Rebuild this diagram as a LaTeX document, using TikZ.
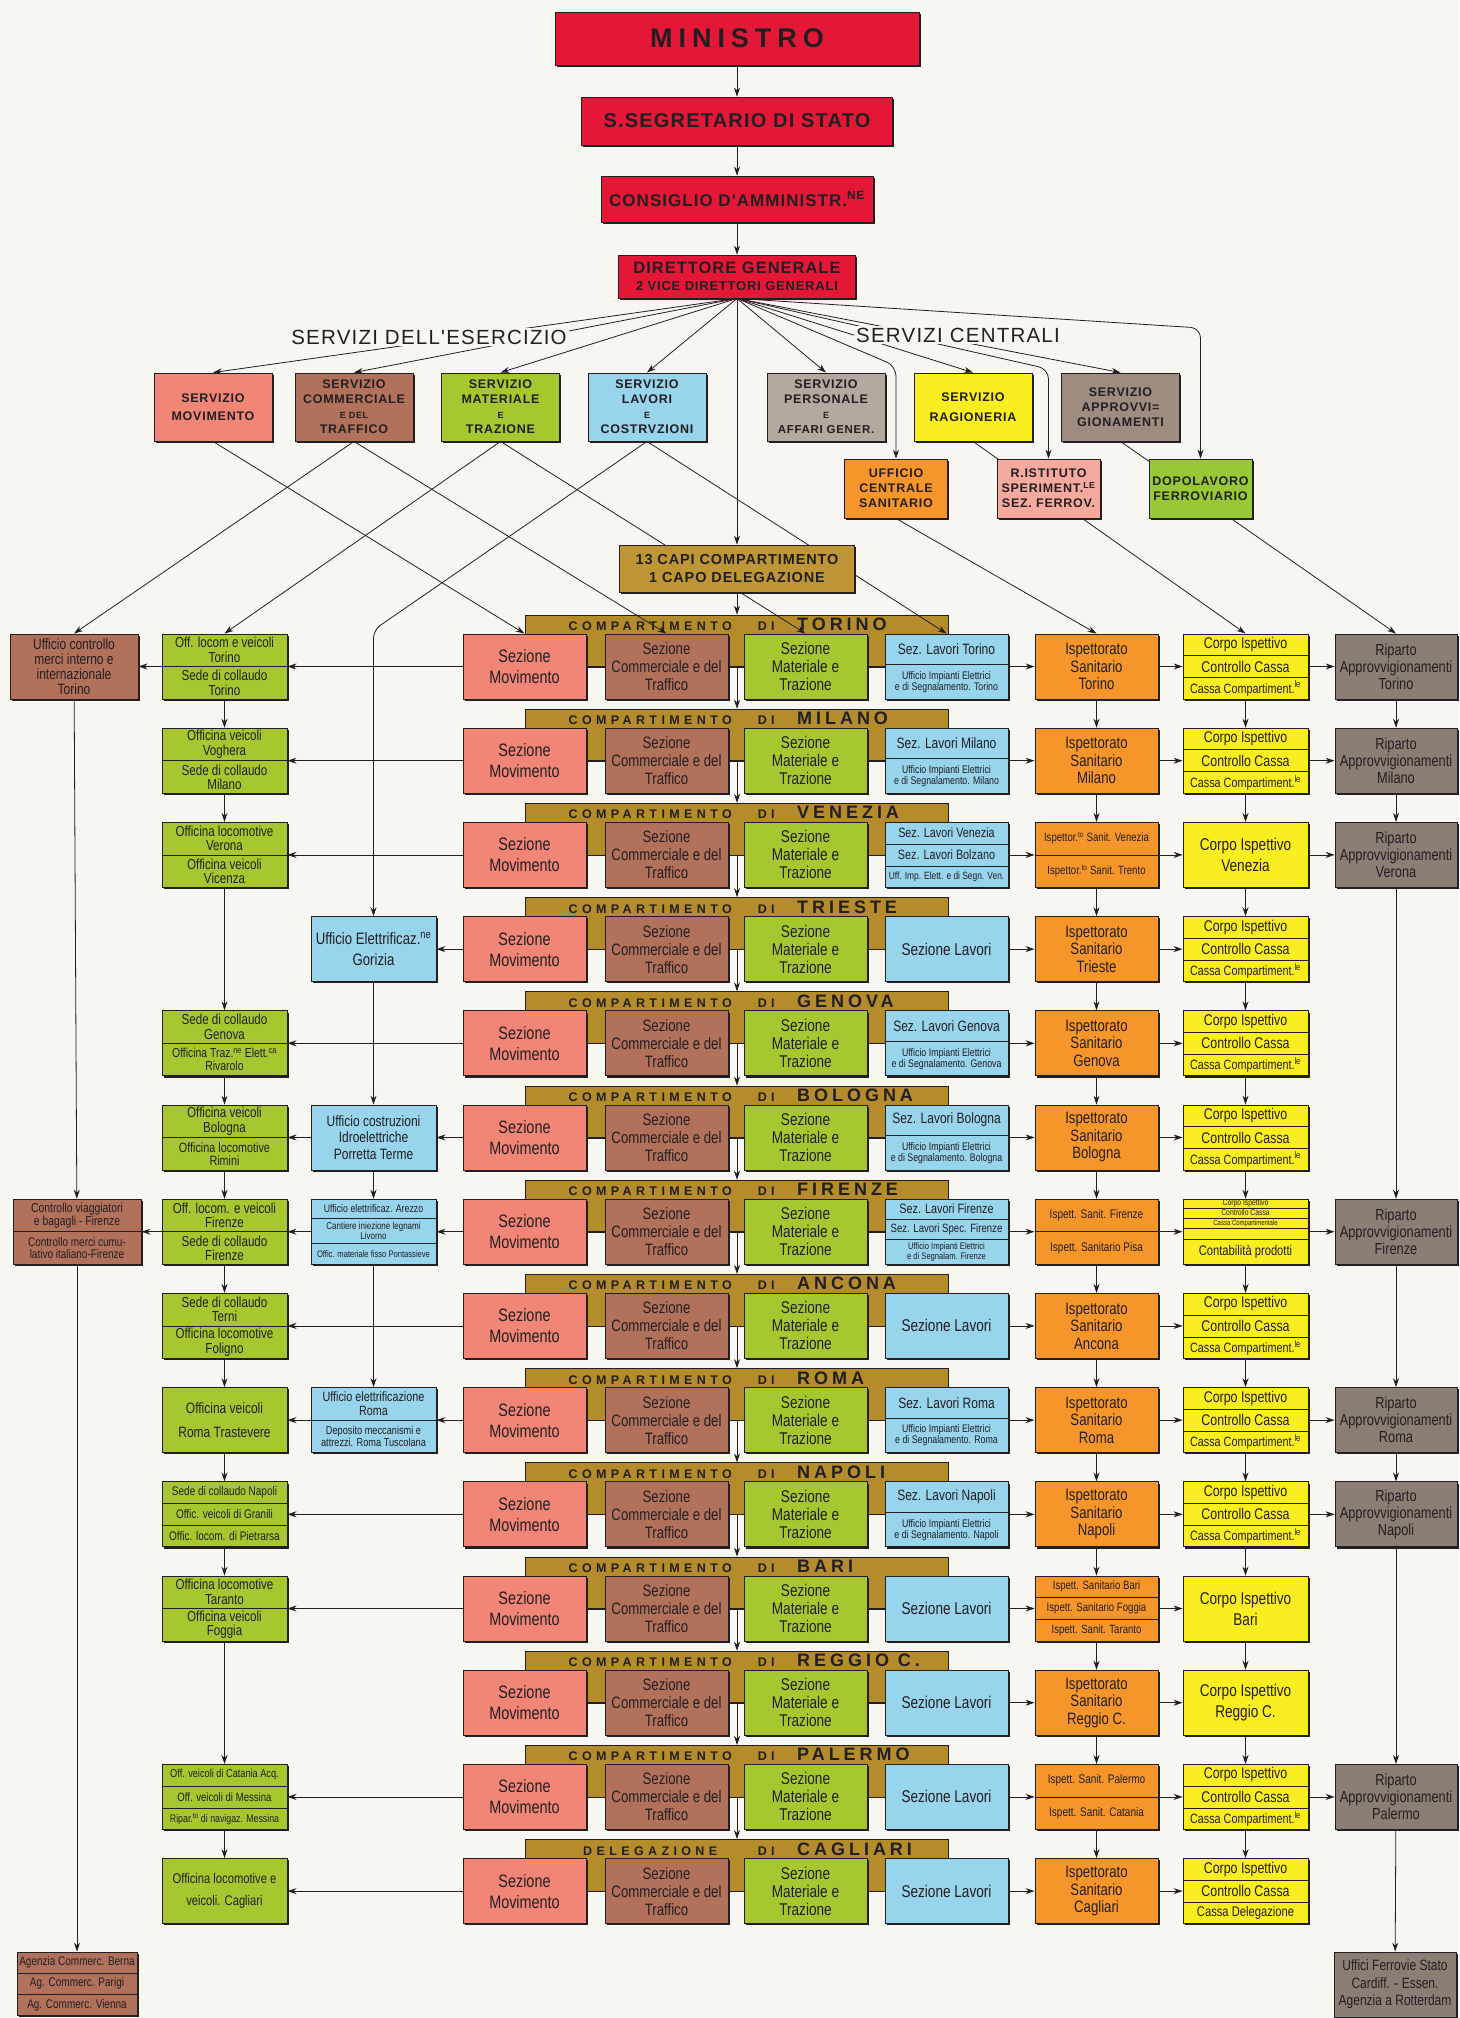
\documentclass[tikz,border=0pt]{standalone}
\usepackage{fontspec}
\setmainfont{Liberation Sans}[FakeStretch=0.8]
\newfontfamily\capsfont{Liberation Sans}[LetterSpace=6]
\newfontfamily\cityfont{Liberation Sans}[LetterSpace=22]
\newfontfamily\hdrfont{Liberation Sans}[LetterSpace=35]
\usetikzlibrary{calc,positioning,shadows,arrows.meta}

\definecolor{paper}{RGB}{248,246,241}
\definecolor{inkc}{RGB}{34,30,34}
\definecolor{redc}{RGB}{228,24,54}
\definecolor{movc}{RGB}{241,134,118}
\definecolor{comc}{RGB}{178,113,90}
\definecolor{matc}{RGB}{166,199,48}
\definecolor{lavc}{RGB}{152,212,236}
\definecolor{perc}{RGB}{178,170,158}
\definecolor{ragc}{RGB}{251,238,32}
\definecolor{appc}{RGB}{158,140,128}
\definecolor{sanc}{RGB}{246,150,42}
\definecolor{istc}{RGB}{246,170,158}
\definecolor{dopc}{RGB}{152,200,54}
\definecolor{goldc}{RGB}{190,150,54}
\definecolor{bandc}{RGB}{180,140,44}
\definecolor{ripc}{RGB}{140,126,116}

\pgfdeclarelayer{bands}
\pgfdeclarelayer{links}
\pgfsetlayers{bands,links,main}

\tikzset{
    >={Stealth[length=9pt,width=6pt]},
    box/.style={draw=inkc, line width=0.9pt, align=center, inner sep=1pt, text=inkc,
        general shadow={shadow xshift=1.8pt, shadow yshift=-1.8pt, fill=inkc}},
    topbox/.style={box, fill=redc},
    srvbox/.style={box, minimum width=118pt, minimum height=68pt,
        font=\capsfont\bfseries\fontsize{12.5}{15}\selectfont},
    subbox/.style={srvbox, minimum width=103pt, minimum height=59pt},
    capbox/.style={box, fill=goldc, minimum width=235pt, minimum height=47pt,
        font=\capsfont\bfseries\fontsize{14.5}{18}\selectfont},
    title/.style={fill=paper, inner sep=2pt, text=inkc, font=\capsfont\fontsize{20.5}{22}\selectfont},
    cell/.style={box, minimum width=123pt, minimum height=65pt, font=\fontsize{17}{18}\selectfont},
    movbox/.style={cell, fill=movc, font=\fontsize{18}{21}\selectfont},
    combox/.style={cell, fill=comc, font=\fontsize{16.5}{18}\selectfont},
    matbox/.style={cell, fill=matc},
    lavbox/.style={cell, fill=lavc},
    ispbox/.style={cell, fill=sanc, font=\fontsize{16.5}{17.5}\selectfont},
    corbox/.style={cell, fill=ragc, minimum width=125pt, font=\fontsize{17}{21}\selectfont},
    ripbox/.style={cell, fill=ripc, minimum width=122pt, font=\fontsize{16}{17}\selectfont},
    grnbox/.style={cell, fill=matc, minimum width=125pt},
    blubox/.style={cell, fill=lavc, minimum width=125pt},
    brnbox/.style={cell, fill=comc, minimum width=128pt},
    part/.style={inner sep=0pt, align=center, text=inkc},
    band/.style={draw=inkc, line width=0.9pt, fill=bandc, minimum width=423pt,
        minimum height=52pt, inner sep=0pt},
    hdr/.style={inner sep=0pt, text=inkc, font=\hdrfont\bfseries\fontsize{12.5}{14}\selectfont},
    link/.style={draw=inkc, line width=0.8pt}
}

% centre line of compartment row #1
\newcommand{\ry}[1]{666.5+94.2*#1}
% box cut in parts: name, style, centre, dividers, centre/size/text
\newcommand{\splitbox}[5]{%
  \node[#2] (#1) at (#3) {};
  \foreach \fr in {#4}{\draw[line width=0.6pt, draw=inkc]
      ($(#1.north west)!\fr!(#1.south west)$) -- ($(#1.north east)!\fr!(#1.south east)$);}
  \foreach \cy/\fs/\tx [count=\n] in {#5}{\node[part, font=\fontsize{\fs}{\fs}\selectfont]
      (#1p\n) at ($(#1.north)!\cy!(#1.south)$) {\tx};}
}

\begin{document}
\begin{tikzpicture}[x=1pt,y=-1pt]
\useasboundingbox (0,0) rectangle (1459,2018);
\begin{pgfonlayer}{bands}
  \fill[paper] (0,0) rectangle (1459,2018);
\end{pgfonlayer}

% Top of the chart
\node[topbox, minimum width=364pt, minimum height=53pt,
  font=\cityfont\bfseries\fontsize{27}{30}\selectfont] (min) at (737,38.5) {MINISTRO};
\node[topbox, minimum width=311pt, minimum height=48pt,
  font=\capsfont\bfseries\fontsize{20}{22}\selectfont] (seg) at (737,121) {S.SEGRETARIO DI STATO};
\node[topbox, minimum width=272pt, minimum height=46pt,
  font=\capsfont\bfseries\fontsize{17}{20}\selectfont] (cons) at (737,199)
  {CONSIGLIO D'AMMINISTR.\textsuperscript{NE}};
\node[topbox, minimum width=237pt, minimum height=43pt,
  font=\capsfont\bfseries\fontsize{16.5}{17}\selectfont] (dir) at (737,276.5)
  {DIRETTORE GENERALE\\{\fontsize{13}{14}\selectfont 2 VICE DIRETTORI GENERALI}};

\node[title] (eserc) at (429,337) {SERVIZI DELL'ESERCIZIO};
\node[title] (centr) at (958,335) {SERVIZI CENTRALI};

% Services
\node[srvbox, fill=movc] (smov) at (213,407) {SERVIZIO\\[3pt]MOVIMENTO};
\node[srvbox, fill=comc] (scomm) at (354,407)
  {SERVIZIO\\COMMERCIALE\\{\fontsize{9}{9}\selectfont E DEL}\\TRAFFICO};
\node[srvbox, fill=matc] (smat) at (500.5,407)
  {SERVIZIO\\MATERIALE\\{\fontsize{9}{9}\selectfont E}\\TRAZIONE};
\node[srvbox, fill=lavc] (slav) at (647,407)
  {SERVIZIO\\LAVORI\\{\fontsize{9}{9}\selectfont E}\\COSTRVZIONI};
\node[srvbox, fill=perc] (spers) at (826,407)
  {SERVIZIO\\PERSONALE\\{\fontsize{9}{9}\selectfont E}\\{\fontsize{11.5}{13}\selectfont AFFARI GENER.}};
\node[srvbox, fill=ragc] (srag) at (973,407) {SERVIZIO\\[5pt]RAGIONERIA};
\node[srvbox, fill=appc] (sappr) at (1120.5,407) {SERVIZIO\\APPROVVI=\\GIONAMENTI};
\node[subbox, fill=sanc] (usan) at (896,488.5) {UFFICIO\\CENTRALE\\SANITARIO};
\node[subbox, fill=istc] (rist) at (1048.5,488.5)
  {R.ISTITUTO\\SPERIMENT.\textsuperscript{LE}\\SEZ. FERROV.};
\node[subbox, fill=dopc] (dopo) at (1200.5,488.5) {DOPOLAVORO\\FERROVIARIO};
\node[capbox] (capi) at (737,568.5) {13 CAPI COMPARTIMENTO\\1 CAPO DELEGAZIONE};

% Compartment rows
\foreach \kind/\city [count=\i from 0] in {COMPARTIMENTO/TORINO, COMPARTIMENTO/MILANO,
    COMPARTIMENTO/VENEZIA, COMPARTIMENTO/TRIESTE, COMPARTIMENTO/GENOVA,
    COMPARTIMENTO/BOLOGNA, COMPARTIMENTO/FIRENZE, COMPARTIMENTO/ANCONA,
    COMPARTIMENTO/ROMA, COMPARTIMENTO/NAPOLI, COMPARTIMENTO/BARI,
    COMPARTIMENTO/REGGIO C., COMPARTIMENTO/PALERMO, DELEGAZIONE/CAGLIARI}{
  \begin{pgfonlayer}{bands}
    \node[band] (band\i) at (737,{641+94.2*\i}) {};
  \end{pgfonlayer}
  \node[hdr, anchor=base west] (head\i) at (565,{630.5+94.2*\i})
    {\makebox[170pt]{\kind}\makebox[62pt]{DI}\makebox[130pt][l]{\cityfont\fontsize{18}{18}\selectfont\city}};
  \node[movbox] (mov\i) at (524.5,\ry{\i}) {Sezione\\Movimento};
  \node[combox] (comm\i) at (666.5,\ry{\i}) {Sezione\\Commerciale e del\\Traffico};
  \node[matbox] (mat\i) at (805.5,\ry{\i}) {Sezione\\Materiale e\\Trazione};
}

% Sezione lavori
\foreach \i/\cty in {0/Torino,1/Milano,4/Genova,5/Bologna,8/Roma,9/Napoli}
  \splitbox{lav\i}{lavbox}{946.5,\ry{\i}}{0.47}{0.235/15/{Sez. Lavori \cty},
    0.735/11/{Ufficio Impianti Elettrici\\e di Segnalamento. \cty}};
\foreach \i in {3,7,10,11,12,13}
  \node[lavbox] (lav\i) at (946.5,\ry{\i}) {Sezione Lavori};
\splitbox{lav2}{lavbox}{946.5,\ry{2}}{0.333,0.667}{0.167/13.5/{Sez. Lavori Venezia},
  0.5/13.5/{Sez. Lavori Bolzano}, 0.833/10.5/{Uff. Imp. Elett. e di Segn. Ven.}}
\splitbox{lav6}{lavbox}{946.5,\ry{6}}{0.31,0.62}{0.155/13.5/{Sez. Lavori Firenze},
  0.465/12/{Sez. Lavori Spec. Firenze}, 0.81/9.5/{Ufficio Impianti Elettrici\\e di Segnalam. Firenze}}

% Ispettorati sanitari
\foreach \i/\cty in {0/Torino,1/Milano,3/Trieste,4/Genova,5/Bologna,7/Ancona,8/Roma,
    9/Napoli,11/Reggio C.,13/Cagliari}
  \node[ispbox] (isp\i) at (1096.5,\ry{\i}) {Ispettorato\\Sanitario\\\cty};
\splitbox{isp2}{ispbox}{1096.5,\ry{2}}{0.5}{0.25/12/{Ispettor.\textsuperscript{to} Sanit. Venezia},
  0.75/12/{Ispettor.\textsuperscript{to} Sanit. Trento}}
\splitbox{isp6}{ispbox}{1096.5,\ry{6}}{0.5}{0.25/12.5/{Ispett. Sanit. Firenze},
  0.75/12.5/{Ispett. Sanitario Pisa}}
\splitbox{isp10}{ispbox}{1096.5,\ry{10}}{0.333,0.667}{0.167/12/{Ispett. Sanitario Bari},
  0.5/12/{Ispett. Sanitario Foggia}, 0.833/12/{Ispett. Sanit. Taranto}}
\splitbox{isp12}{ispbox}{1096.5,\ry{12}}{0.5}{0.25/12.5/{Ispett. Sanit. Palermo},
  0.75/12.5/{Ispett. Sanit. Catania}}

% Corpo ispettivo
\foreach \i in {0,1,3,4,5,7,8,9,12}
  \splitbox{corpo\i}{corbox}{1245.5,\ry{\i}}{0.333,0.667}{0.167/15.5/{Corpo Ispettivo},
    0.5/15.5/{Controllo Cassa}, 0.833/13.5/{Cassa Compartiment.\textsuperscript{le}}};
\node[corbox] (corpo2) at (1245.5,\ry{2}) {Corpo Ispettivo\\Venezia};
\node[corbox] (corpo10) at (1245.5,\ry{10}) {Corpo Ispettivo\\Bari};
\node[corbox] (corpo11) at (1245.5,\ry{11}) {Corpo Ispettivo\\Reggio C.};
\splitbox{corpo6}{corbox}{1245.5,\ry{6}}{0.14,0.29,0.45,0.62}{0.07/8.5/{Corpo Ispettivo},
  0.215/8.5/{Controllo Cassa}, 0.37/7.5/{Cassa Compartimentale}, 0.81/14/{Contabilità prodotti}}
\splitbox{corpo13}{corbox}{1245.5,\ry{13}}{0.333,0.667}{0.167/15.5/{Corpo Ispettivo},
  0.5/15.5/{Controllo Cassa}, 0.833/14/{Cassa Delegazione}}

% Riparti approvvigionamenti
\foreach \i/\cty in {0/Torino,1/Milano,2/Verona,6/Firenze,8/Roma,9/Napoli,12/Palermo}
  \node[ripbox] (rip\i) at (1396,\ry{\i}) {Riparto\\Approvvigionamenti\\\cty};
\node[ripbox, font=\fontsize{15}{17.5}\selectfont] (uff) at (1395,1984.5)
  {Uffici Ferrovie Stato\\Cardiff. - Essen.\\Agenzia a Rotterdam};

% Left side offices
\node[brnbox, font=\fontsize{15}{15}\selectfont] (br0) at (74,\ry{0})
  {Ufficio controllo\\merci interno e\\internazionale\\Torino};
\splitbox{br6}{brnbox}{77,\ry{6}}{0.5}{0.25/13/{Controllo viaggiatori\\e bagagli - Firenze},
  0.75/12.5/{Controllo merci cumu-\\lativo italiano-Firenze}}
\splitbox{agz}{brnbox, minimum width=120pt, minimum height=63pt}{77,1983.5}{0.333,0.667}{0.167/12.5/{Agenzia Commerc. Berna},
  0.5/12.5/{Ag. Commerc. Parigi}, 0.833/12.5/{Ag. Commerc. Vienna}}

\splitbox{g0}{grnbox}{224.5,\ry{0}}{0.5}{0.25/14.5/{Off. locom e veicoli\\Torino}, 0.75/14.5/{Sede di collaudo\\Torino}}
\splitbox{g1}{grnbox}{224.5,\ry{1}}{0.5}{0.25/14.5/{Officina veicoli\\Voghera}, 0.75/14.5/{Sede di collaudo\\Milano}}
\splitbox{g2}{grnbox}{224.5,\ry{2}}{0.5}{0.25/14.5/{Officina locomotive\\Verona}, 0.75/14.5/{Officina veicoli\\Vicenza}}
\splitbox{g4}{grnbox}{224.5,\ry{4}}{0.5}{0.25/14.5/{Sede di collaudo\\Genova},
  0.75/13/{Officina Traz.\textsuperscript{ne} Elett.\textsuperscript{ca}\\Rivarolo}}
\splitbox{g5}{grnbox}{224.5,\ry{5}}{0.5}{0.25/14.5/{Officina veicoli\\Bologna}, 0.75/13.5/{Officina locomotive\\Rimini}}
\splitbox{g6}{grnbox}{224.5,\ry{6}}{0.5}{0.25/14.5/{Off. locom. e veicoli\\Firenze}, 0.75/14.5/{Sede di collaudo\\Firenze}}
\splitbox{g7}{grnbox}{224.5,\ry{7}}{0.5}{0.25/14.5/{Sede di collaudo\\Terni}, 0.75/14.5/{Officina locomotive\\Foligno}}
\node[grnbox, font=\fontsize{15}{24}\selectfont] (g8) at (224.5,\ry{8}) {Officina veicoli\\Roma Trastevere};
\splitbox{g9}{grnbox}{224.5,\ry{9}}{0.333,0.667}{0.167/12.5/{Sede di collaudo Napoli},
  0.5/12.5/{Offic. veicoli di Granili}, 0.833/12.5/{Offic. locom. di Pietrarsa}}
\splitbox{g10}{grnbox}{224.5,\ry{10}}{0.5}{0.25/14.5/{Officina locomotive\\Taranto}, 0.75/14.5/{Officina veicoli\\Foggia}}
\splitbox{g12}{grnbox}{224.5,\ry{12}}{0.333,0.667}{0.167/11.5/{Off. veicoli di Catania Acq.},
  0.5/12/{Off. veicoli di Messina}, 0.833/11/{Ripar.\textsuperscript{to} di navigaz. Messina}}
\node[grnbox, font=\fontsize{14}{22}\selectfont] (g13) at (224.5,\ry{13}) {Officina locomotive e\\veicoli. Cagliari};

\node[blubox, font=\fontsize{16.5}{21}\selectfont] (bl3) at (373.5,\ry{3}) {Ufficio Elettrificaz.\textsuperscript{ne}\\Gorizia};
\node[blubox, font=\fontsize{15}{16.5}\selectfont] (bl5) at (373.5,\ry{5}) {Ufficio costruzioni\\Idroelettriche\\Porretta Terme};
\splitbox{bl6}{blubox}{373.5,\ry{6}}{0.3,0.67}{0.15/11/{Ufficio elettrificaz. Arezzo},
  0.485/10/{Cantiere iniezione legnami\\Livorno}, 0.835/9.5/{Offic. materiale fisso Pontassieve}}
\splitbox{bl8}{blubox}{373.5,\ry{8}}{0.5}{0.25/13.5/{Ufficio elettrificazione\\Roma},
  0.75/11.5/{Deposito meccanismi e\\attrezzi. Roma Tuscolana}}

\coordinate (kusan) at (896,366);
\coordinate (krist) at (1048.5,369);
\coordinate (kdopo) at (1200.5,328);
\coordinate (kgor) at (373.5,630);

% Paths
\begin{pgfonlayer}{links}
  \draw[link,->] (min) -- (seg);
  \draw[link,->] (seg) -- (cons);
  \draw[link,->] (cons) -- (dir);
  \foreach \s in {smov,scomm,smat,slav,spers,srag,sappr}
    \draw[link,->] (dir.south) -- (\s.north);
  \draw[link,->] (dir.south) -- (capi.north);
  \draw[link,->,rounded corners=10pt] (dir.south) -- (kusan) -- (usan.north);
  \draw[link,->,rounded corners=10pt] (dir.south) -- (krist) -- (rist.north);
  \draw[link,->,rounded corners=10pt] (dir.south) -- (kdopo) -- (dopo.north);

  \draw[link,->] (smov.south) -- (mov0.north);
  \draw[link,->] (scomm.south) -- (br0.north);
  \draw[link,->] (scomm.south) -- (comm0.north);
  \draw[link,->] (smat.south) -- (g0.north);
  \draw[link,->] (smat.south) -- (mat0.north);
  \draw[link,->] (slav.south) -- (lav0.north);
  \draw[link,->,rounded corners=8pt] (slav.south) -- (kgor) -- (bl3.north);
  \draw[link,->] (usan.south) -- (isp0.north);
  \draw[link,->] (srag.south) -- (corpo0.north);
  \draw[link,->] (sappr.south) -- (rip0.north);

  \draw[link,->] (capi) -- (band0);
  \foreach \i [evaluate=\i as \j using int(\i+1)] in {0,...,12}{
    \draw[link,->] (band\i.south) -- (band\j.north);
    \draw[link,->] (isp\i) -- (isp\j);
    \draw[link,->] (corpo\i) -- (corpo\j);
  }
  \foreach \tgt [count=\i from 0] in {g0,g1,g2,bl3,g4,bl5,bl6,g7,bl8,g9,g10,none,g12,g13}{
    \draw[link,->] (mov\i.center) -- (isp\i.west);
    \ifnum\i=11\else\draw[link,->] (mov\i.center) -- (\tgt.east);\fi
    \draw[link,->] (isp\i) -- (corpo\i);
  }
  \foreach \i in {0,1,2,6,8,9,12}
    \draw[link,->] (corpo\i) -- (rip\i);
  \foreach \a/\b in {rip0/rip1,rip1/rip2,rip2/rip6,rip6/rip8,rip8/rip9,rip9/rip12,rip12/uff,
      g0/g1,g1/g2,g2/g4,g4/g5,g5/g6,g6/g7,g7/g8,g8/g9,g9/g10,g10/g12,g12/g13,
      bl3/bl5,bl5/bl6,bl6/bl8,bl5/g5,bl6/g6,bl8/g8,g0/br0,g6/br6,br0/br6,br6/agz}
    \draw[link,->] (\a) -- (\b);
\end{pgfonlayer}

\end{tikzpicture}
\end{document}
